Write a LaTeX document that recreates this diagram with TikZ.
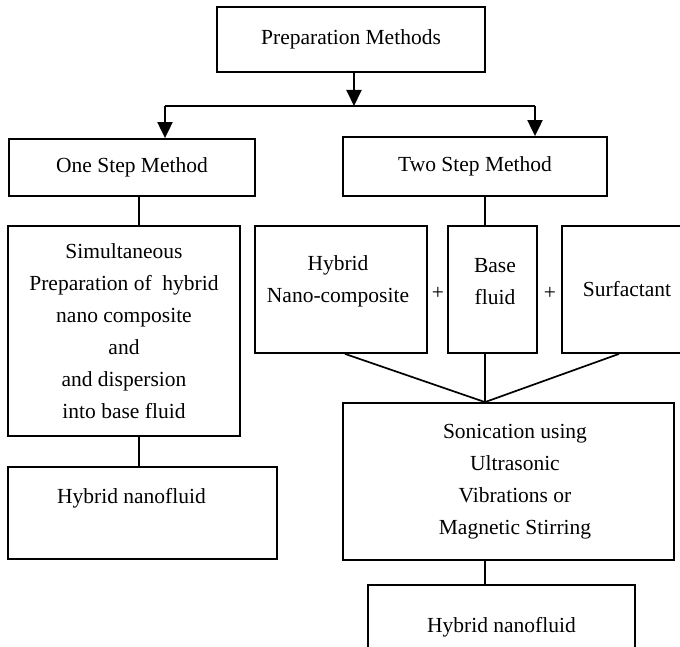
\documentclass[tikz,border=0pt]{standalone}
\usepackage{fontspec}
\setmainfont{Liberation Serif}
\usetikzlibrary{arrows.meta}
\tikzset{
  box/.style={draw, line width=1.8pt, inner sep=0pt, align=center,
    font=\fontsize{21.5}{32}\selectfont},
  txt/.style={inner sep=0pt, align=center, font=\fontsize{21.5}{32}\selectfont},
  conn/.style={line width=1.7pt},
  arr/.style={line width=2pt, -{Triangle[length=16pt,width=15pt]}}
}
\begin{document}
\begin{tikzpicture}[x=1pt,y=-1pt]
\useasboundingbox (0,0) rectangle (680,647);
% boxes
\node[box, minimum width=268pt, minimum height=65pt] (top) at (351,39.5) {Preparation Methods};
\node[box, minimum width=246pt, minimum height=57pt] (one) at (132,167.5) {One Step Method};
\node[box, minimum width=264pt, minimum height=59pt] (two) at (475,166.5) {Two Step Method};
\node[box, minimum width=232pt, minimum height=210pt] (sim) at (124,331)
  {Simultaneous\\Preparation of \ hybrid\\nano composite\\and\\and dispersion\\into base fluid};
\node[box, minimum width=269pt, minimum height=92pt] (lhn) at (142.5,513) {};
\node[txt] (lhnt) at (131.5,498) {Hybrid nanofluid};
\node[box, minimum width=172pt, minimum height=127pt] (hyb) at (341,289.5) {};
\node[txt] (hybt) at (338,281) {Hybrid\\Nano-composite};
\node[box, minimum width=89pt, minimum height=127pt] (base) at (492.5,289.5) {};
\node[txt] (baset) at (495,281.5) {Base\\fluid};
\node[box, minimum width=130pt, minimum height=127pt] (surf) at (627,289.5) {Surfactant};
\node[txt] (p1) at (438,293) {+};
\node[txt] (p2) at (550,293) {+};
\node[box, minimum width=331pt, minimum height=157pt] (son) at (508.5,481.5) {};
\node[txt] (sont) at (515,482) {Sonication using\\Ultrasonic\\Vibrations or\\Magnetic Stirring};
\node[box, minimum width=267pt, minimum height=85pt] (bot) at (501.5,627.5) {Hybrid nanofluid};
% helper coordinates
\coordinate (m) at (354,106);
\coordinate (hl) at (165,106);
\coordinate (hr) at (535,106);
\coordinate (c1) at (139,0);
\coordinate (c2) at (485,0);
\coordinate (ch) at (345,0);
\coordinate (cs) at (619,0);
% connectors
\draw[arr] (top.south -| m) -- (m);
\draw[conn, line width=2pt] (hl) -- (hr);
\draw[arr] (hl) -- (hl |- one.north);
\draw[arr] (hr) -- (hr |- two.north);
\draw[conn] (one.south -| c1) -- (sim.north -| c1);
\draw[conn] (sim.south -| c1) -- (lhn.north -| c1);
\draw[conn] (two.south -| c2) -- (base.north -| c2);
\draw[conn] (hyb.south -| ch) -- (son.north -| c2);
\draw[conn] (base.south -| c2) -- (son.north -| c2);
\draw[conn] (surf.south -| cs) -- (son.north -| c2);
\draw[conn] (son.south -| c2) -- (bot.north -| c2);
\end{tikzpicture}
\end{document}
